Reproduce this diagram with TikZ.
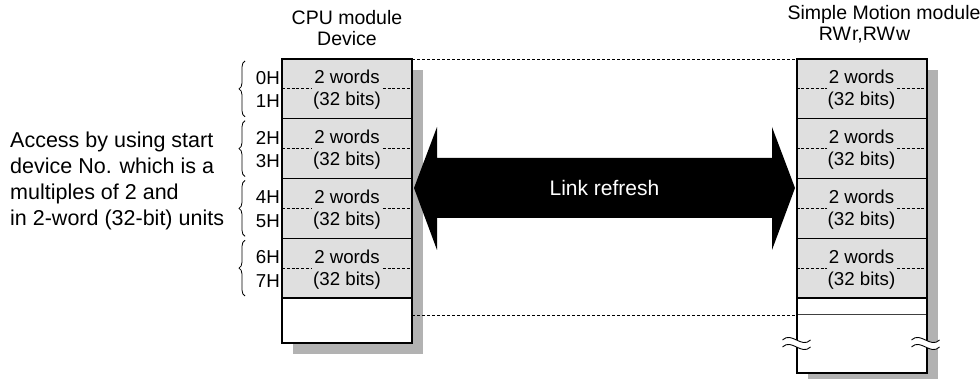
\documentclass[tikz,border=0pt]{standalone}
\usepackage{fontspec}
\setmainfont{Liberation Sans}
\usetikzlibrary{positioning, shadows, decorations.pathreplacing}

\definecolor{cellgray}{gray}{0.875}
\definecolor{shadegray}{gray}{0.70}

\begin{document}
\begin{tikzpicture}[x=1pt, y=-1pt,
    box/.style={fill=white, minimum width=130pt, inner sep=0pt, outer sep=0pt,
      drop shadow={shadow xshift=11pt, shadow yshift=-11pt, fill=shadegray, opacity=1}},
    outline/.style={draw, line width=2pt},
    cell/.style={draw, fill=cellgray, line width=1.3pt, minimum width=130pt,
      minimum height=59.75pt, inner sep=0pt, outer sep=0pt},
    midline/.style={dash pattern=on 3pt off 1.8pt, line width=0.8pt},
    words/.style={anchor=base, yshift=4.9pt, fill=cellgray, inner xsep=2pt, inner ysep=6pt,
      font=\fontsize{18.7}{23}\selectfont},
    bits/.style={anchor=base, yshift=-17pt, inner sep=0pt, font=\fontsize{18.7}{23}\selectfont},
    hex/.style={anchor=east, inner sep=0pt, font=\fontsize{18.7}{23}\selectfont},
    hexbrace/.style={decorate, decoration={brace, amplitude=6pt}, line width=0.8pt},
    guide/.style={dash pattern=on 3pt off 2pt, line width=0.8pt},
    header/.style={inner sep=0pt, font=\fontsize{19.5}{21}\selectfont},
    breakmark/.pic={
      \fill[white] (-14,-3.5) .. controls (-5,-12.5) and (5,5.5) .. (14,-3.5)
        -- (14,3.5) .. controls (5,12.5) and (-5,-5.5) .. (-14,3.5) -- cycle;
      \draw[line width=0.9pt] (-14,-3.5) .. controls (-5,-12.5) and (5,5.5) .. (14,-3.5);
      \draw[line width=0.9pt] (-14,3.5) .. controls (-5,-5.5) and (5,12.5) .. (14,3.5);
    }]
  \useasboundingbox (0,0) rectangle (980,379);

  % headers
  \node[header, align=center, anchor=south] (cpuhdr) at (347,46) {CPU module\\Device};
  \node[header, anchor=base] (smmhdr) at (884,20) {Simple Motion module};
  \node[header, anchor=base] (rwhdr) at (864.5,41) {RW\kern1pt r,RW\kern1pt w};

  % the two memory areas
  \node[box, minimum height=284pt] (cpubox) at (347,201) {};
  \node[box, minimum height=314pt] (smmbox) at (861.5,216) {};

  % CPU module device
  \node[cell, below=0pt of cpubox.north] (cpu1) {};
  \node[cell, below=0pt of cpu1] (cpu2) {};
  \node[cell, below=0pt of cpu2] (cpu3) {};
  \node[cell, below=0pt of cpu3] (cpu4) {};
  \draw[midline] (cpu1.west) -- (cpu1.east) node[midway, words] (cpu1w) {2 words} node[midway, bits] (cpu1b) {(32 bits)};
  \draw[midline] (cpu2.west) -- (cpu2.east) node[midway, words] (cpu2w) {2 words} node[midway, bits] (cpu2b) {(32 bits)};
  \draw[midline] (cpu3.west) -- (cpu3.east) node[midway, words] (cpu3w) {2 words} node[midway, bits] (cpu3b) {(32 bits)};
  \draw[midline] (cpu4.west) -- (cpu4.east) node[midway, words] (cpu4w) {2 words} node[midway, bits] (cpu4b) {(32 bits)};

  % Simple Motion module RWr/RWw
  \node[cell, below=0pt of smmbox.north] (smm1) {};
  \node[cell, below=0pt of smm1] (smm2) {};
  \node[cell, below=0pt of smm2] (smm3) {};
  \node[cell, below=0pt of smm3] (smm4) {};
  \draw[midline] (smm1.west) -- (smm1.east) node[midway, words] (smm1w) {2 words} node[midway, bits] (smm1b) {(32 bits)};
  \draw[midline] (smm2.west) -- (smm2.east) node[midway, words] (smm2w) {2 words} node[midway, bits] (smm2b) {(32 bits)};
  \draw[midline] (smm3.west) -- (smm3.east) node[midway, words] (smm3w) {2 words} node[midway, bits] (smm3b) {(32 bits)};
  \draw[midline] (smm4.west) -- (smm4.east) node[midway, words] (smm4w) {2 words} node[midway, bits] (smm4b) {(32 bits)};
  \coordinate (smmcut) at ([yshift=-17pt]smm4.south west);
  \draw[line width=1pt, black!75] (smmcut) -- (smmcut -| smmbox.east);

  % dashed guides between the areas
  \draw[guide] (cpubox.north east) -- (smmbox.north west);
  \draw[guide] (cpubox.east |- smmcut) -- (smmcut);

  % device numbers
  \node[hex] (h0) at ([xshift=-2pt, yshift=11pt]cpu1.west) {0H};
  \node[hex] (h1) at ([xshift=-2pt, yshift=-12.5pt]cpu1.west) {1H};
  \node[hex] (h2) at ([xshift=-2pt, yshift=11pt]cpu2.west) {2H};
  \node[hex] (h3) at ([xshift=-2pt, yshift=-12.5pt]cpu2.west) {3H};
  \node[hex] (h4) at ([xshift=-2pt, yshift=11pt]cpu3.west) {4H};
  \node[hex] (h5) at ([xshift=-2pt, yshift=-12.5pt]cpu3.west) {5H};
  \node[hex] (h6) at ([xshift=-2pt, yshift=11pt]cpu4.west) {6H};
  \node[hex] (h7) at ([xshift=-2pt, yshift=-12.5pt]cpu4.west) {7H};
  \draw[hexbrace] ([xshift=-37pt, yshift=2pt]cpu1.south west) -- ([xshift=-37pt, yshift=-2pt]cpu1.north west);
  \draw[hexbrace] ([xshift=-37pt, yshift=2pt]cpu2.south west) -- ([xshift=-37pt, yshift=-2pt]cpu2.north west);
  \draw[hexbrace] ([xshift=-37pt, yshift=2pt]cpu3.south west) -- ([xshift=-37pt, yshift=-2pt]cpu3.north west);
  \draw[hexbrace] ([xshift=-37pt, yshift=2pt]cpu4.south west) -- ([xshift=-37pt, yshift=-2pt]cpu4.north west);

  \node[anchor=west, align=left, inner sep=0pt, font=\fontsize{21.5}{25.8}\selectfont] (note) at (10,181)
    {Access by using start\\device No. which is a\\multiples of 2 and\\in 2-word (32-bit) units};

  % link refresh arrow
  \fill (414,188) -- (437,127) -- (437,158) -- (772,158) -- (772,127) -- (795,188)
    -- (772,250) -- (772,218) -- (437,218) -- (437,250) -- cycle;
  \node[text=white, font=\fontsize{21}{25}\selectfont] (link) at (604.5,188) {Link refresh};

  % frames
  \draw[outline] (cpubox.north west) rectangle (cpubox.south east);
  \draw[outline] (smmbox.north west) rectangle (smmbox.south east);
  \pic at ([yshift=29.5pt]smmbox.south west) {breakmark};
  \pic at ([yshift=29.5pt, xshift=-1pt]smmbox.south east) {breakmark};
\end{tikzpicture}
\end{document}
